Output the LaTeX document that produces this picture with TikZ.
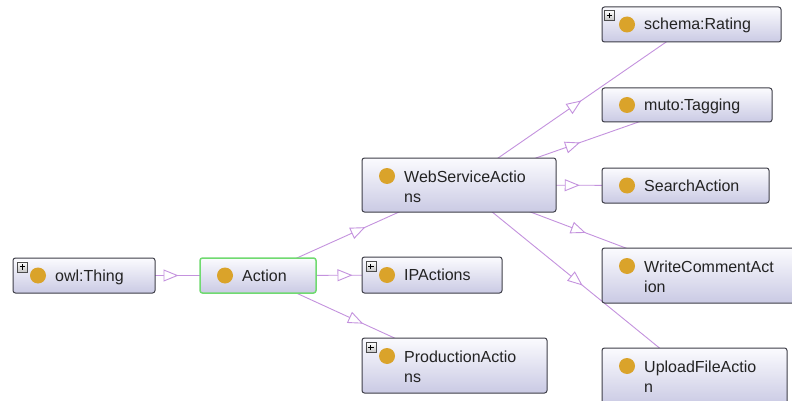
\documentclass[tikz,border=0pt]{standalone}
\usepackage{fontspec}
\setmainfont{Liberation Sans}
\usetikzlibrary{arrows.meta,decorations.markings,backgrounds,calc}
\definecolor{edgec}{RGB}{196,146,222}
\definecolor{boxtop}{RGB}{251,251,254}
\definecolor{boxbot}{RGB}{202,202,228}
\definecolor{boxline}{RGB}{62,62,72}
\definecolor{actline}{RGB}{112,218,112}
\definecolor{dotc}{RGB}{218,163,42}
\definecolor{txtc}{RGB}{35,35,35}
\tikzset{
 box/.style={rectangle, rounded corners=2.5pt, draw=boxline, line width=1pt, top color=boxtop, bottom color=boxbot, inner sep=0pt, outer sep=0pt, anchor=north west},
 dotn/.style={circle, fill=dotc, minimum size=16pt, inner sep=0pt},
 lbl/.style={font=\fontsize{16}{19}\selectfont, text=txtc, inner sep=0pt, anchor=base west},
 plusbox/.style={rectangle, draw=gray!60!black, line width=0.7pt, top color=white, bottom color=gray!45, minimum size=10pt, inner sep=0pt, anchor=north west,
   path picture={\draw[line width=1.2pt,black] ([xshift=-2.8pt]path picture bounding box.center) -- ([xshift=2.8pt]path picture bounding box.center) ([yshift=-2.8pt]path picture bounding box.center) -- ([yshift=2.8pt]path picture bounding box.center);}},
 isa/.style={draw=edgec, line width=0.9pt, postaction={decorate}, decoration={markings, mark=at position 0.5 with {\arrow[xshift=7.5pt]{Triangle[length=15pt,width=12pt,fill=white,line width=0.9pt]}}}}
}
\begin{document}
\begin{tikzpicture}[x=1pt,y=-1pt]
\useasboundingbox (0,0) rectangle (792,401);

% one-line nodes
\node[box, minimum width=142pt, minimum height=35pt] (thing) at (13,258) {};
\node[plusbox] (thing-p) at ($(thing.north west)+(4,3.5)$) {};
\node[dotn] (thing-d) at ($(thing.north west)+(25,17.5)$) {};
\node[lbl] (thing-t) at ($(thing.north west)+(42,23)$) {owl:Thing};

\node[box, draw=actline, line width=1.5pt, minimum width=116pt, minimum height=35pt] (action) at (200,258) {};
\node[dotn] (action-d) at ($(action.north west)+(25,17.5)$) {};
\node[lbl] (action-t) at ($(action.north west)+(42,23)$) {Action};

\node[box, minimum width=140pt, minimum height=36pt] (ip) at (362,257) {};
\node[plusbox] (ip-p) at ($(ip.north west)+(3.5,4)$) {};
\node[dotn] (ip-d) at ($(ip.north west)+(25,18)$) {};
\node[lbl] (ip-t) at ($(ip.north west)+(42,23.5)$) {IPActions};

\node[box, minimum width=179pt, minimum height=35pt] (rating) at (602,7) {};
\node[plusbox] (rating-p) at ($(rating.north west)+(2,3)$) {};
\node[dotn] (rating-d) at ($(rating.north west)+(25,17.5)$) {};
\node[lbl] (rating-t) at ($(rating.north west)+(42,23)$) {schema:Rating};

\node[box, minimum width=170pt, minimum height=34pt] (tagging) at (602,88) {};
\node[dotn] (tagging-d) at ($(tagging.north west)+(25,17)$) {};
\node[lbl] (tagging-t) at ($(tagging.north west)+(42,22.5)$) {muto:Tagging};

\node[box, minimum width=167pt, minimum height=35pt] (search) at (602,168) {};
\node[dotn] (search-d) at ($(search.north west)+(25,17.5)$) {};
\node[lbl] (search-t) at ($(search.north west)+(42,23)$) {SearchAction};

% two-line nodes
\node[box, minimum width=194pt, minimum height=54pt] (wsa) at (362,158) {};
\node[dotn] (wsa-d) at ($(wsa.north west)+(25,18)$) {};
\node[lbl] (wsa-t1) at ($(wsa.north west)+(42,24)$) {WebServiceActio};
\node[lbl] (wsa-t2) at ($(wsa.north west)+(42,44)$) {ns};

\node[box, minimum width=185pt, minimum height=55pt] (prod) at (362,338) {};
\node[plusbox] (prod-p) at ($(prod.north west)+(3.5,4)$) {};
\node[dotn] (prod-d) at ($(prod.north west)+(25,18)$) {};
\node[lbl] (prod-t1) at ($(prod.north west)+(42,24)$) {ProductionActio};
\node[lbl] (prod-t2) at ($(prod.north west)+(42,44)$) {ns};

\node[box, minimum width=193pt, minimum height=55pt] (wca) at (602,248) {};
\node[dotn] (wca-d) at ($(wca.north west)+(25,18)$) {};
\node[lbl] (wca-t1) at ($(wca.north west)+(42,24)$) {WriteCommentAct};
\node[lbl] (wca-t2) at ($(wca.north west)+(42,44)$) {ion};

\node[box, minimum width=185pt, minimum height=57pt] (ufa) at (602,348) {};
\node[dotn] (ufa-d) at ($(ufa.north west)+(25,18)$) {};
\node[lbl] (ufa-t1) at ($(ufa.north west)+(42,24)$) {UploadFileActio};
\node[lbl] (ufa-t2) at ($(ufa.north west)+(42,44)$) {n};

% connectors
\begin{scope}[on background layer]
\fill[white] (0,0) rectangle (792,401);
\draw[isa] (thing.center) -- (action.center);
\draw[isa] (action.center) -- (wsa.center);
\draw[isa] (action.center) -- (ip.center);
\draw[isa] (action.center) -- (prod.center);
\draw[isa] (wsa.center) -- (rating.center);
\draw[isa] (wsa.center) -- (tagging.center);
\draw[isa] (wsa.center) -- (search.center);
\draw[isa] (wsa.center) -- (wca.center);
\draw[isa] (wsa.center) -- (ufa.center);
\end{scope}
\end{tikzpicture}
\end{document}
